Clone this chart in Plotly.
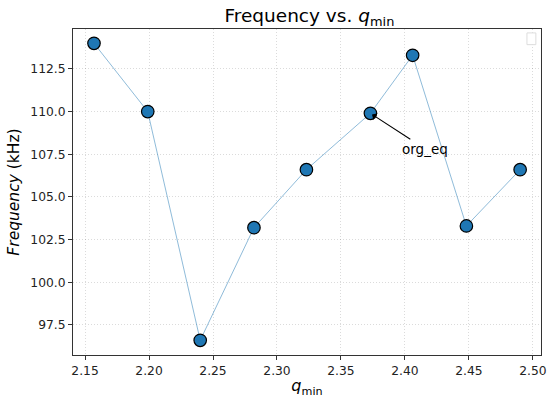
import plotly.graph_objects as go

# q_min values and measured frequencies (kHz)
q_min = [2.157, 2.199, 2.240, 2.282, 2.323, 2.373, 2.406, 2.448, 2.490]
frequency = [114.0, 110.0, 96.6, 103.2, 106.6, 109.9, 113.3, 103.3, 106.6]

x_ticks = [2.15, 2.20, 2.25, 2.30, 2.35, 2.40, 2.45, 2.50]
y_ticks = [97.5, 100.0, 102.5, 105.0, 107.5, 110.0, 112.5]

label_point = 5  # index annotated as org_eq

fig = go.Figure()

fig.add_trace(go.Scatter(
    x=q_min, y=frequency,
    mode='lines',
    line=dict(color='rgba(31,119,180,0.5)', width=1),
    showlegend=False,
    hoverinfo='skip',
))
fig.add_trace(go.Scatter(
    x=q_min, y=frequency,
    mode='markers',
    marker=dict(size=12.5, color='#1f77b4', line=dict(color='black', width=1.2)),
    showlegend=False,
))

fig.add_annotation(
    x=q_min[label_point], y=frequency[label_point],
    ax=2.4156, ay=107.82, axref='x', ayref='y',
    text='org_eq', showarrow=True,
    arrowhead=1, arrowsize=1.2, arrowwidth=1.1, arrowcolor='black',
    standoff=2,
    font=dict(size=13.5, color='black'),
)

# empty legend box, as in the source
fig.add_shape(type='rect', xref='paper', yref='paper',
              x0=0.970, x1=0.989, y0=0.952, y1=0.988,
              line=dict(color='#dddddd', width=1), fillcolor='white')

axis_common = dict(
    showline=True, linecolor='#333333', linewidth=1, mirror=True,
    ticks='outside', ticklen=4, tickcolor='#333333',
    showgrid=True, gridcolor='rgba(0,0,0,0.14)', griddash='1px,2px', gridwidth=1,
    zeroline=False, automargin=False,
    tickfont=dict(size=12.3, color='#222222'),
)

fig.update_layout(
    width=557, height=398,
    margin=dict(l=73, r=16, t=29, b=43),
    plot_bgcolor='white', paper_bgcolor='white',
    font=dict(family='DejaVu Sans', color='black'),
    title=dict(text='Frequency vs. <i>q</i><sub>min</sub>', x=0.5555, xanchor='center',
               y=0.978, yanchor='top', font=dict(size=18.5), automargin=False),
    xaxis=dict(axis_common, range=[2.1406, 2.5063], tickvals=x_ticks,
               ticktext=[f'{v:.2f}' for v in x_ticks],
               title=dict(text='<i>q</i><sub>min</sub>', font=dict(size=16), standoff=3)),
    yaxis=dict(axis_common, range=[95.74, 114.84], tickvals=y_ticks,
               ticktext=[f'{v:.1f}' for v in y_ticks],
               title=dict(text='<i>Frequency</i> (kHz)', font=dict(size=15.5), standoff=6)),
)

# drop the default page margin so the figure sits at the window corner
fig.write_html("out.html", config={'displayModeBar': False},
               post_script="document.body.style.margin='0';")
